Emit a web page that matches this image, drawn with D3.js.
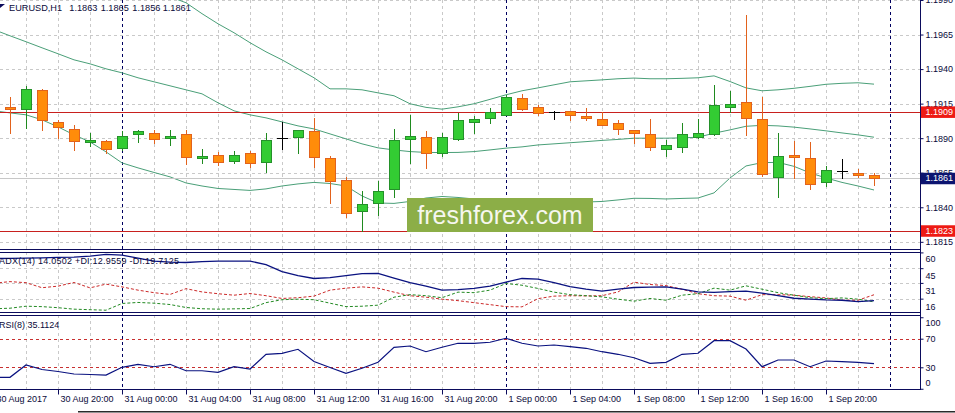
<!DOCTYPE html>
<html><head><meta charset="utf-8">
<script src="https://cdn.jsdelivr.net/npm/d3@7"></script>
<style>
body{margin:0;background:#fff;overflow:hidden;}
svg{display:block;}
text{font-family:"Liberation Sans",Arial,sans-serif;}
</style>
</head><body>
<svg id="c" width="955" height="413"></svg>
<script>
// ---------- DATA ----------
const barTimes = d3.timeHour.range(new Date(2017,7,30,16), new Date(2017,8,2,0)); // 56 H1 bars
const open  = [1.19100,1.19125,1.19114,1.19248,1.19016,1.18965,1.18875,1.18880,1.18832,1.18929,1.18938,1.18904,1.18931,1.18755,1.18777,1.18738,1.18793,1.18726,1.18900,1.18907,1.18953,1.18755,1.18598,1.18371,1.18429,1.18530,1.18897,1.18907,1.18791,1.18897,1.19016,1.19047,1.19067,1.19190,1.19125,1.19088,1.19096,1.19062,1.19038,1.19009,1.18958,1.18929,1.18825,1.18835,1.18912,1.18929,1.19125,1.19161,1.19040,1.18617,1.18779,1.18755,1.18581,1.18661,1.18649,1.18630];
const high  = [1.19180,1.19201,1.19279,1.19255,1.19033,1.18996,1.18941,1.18885,1.18955,1.18960,1.18960,1.18960,1.18960,1.18822,1.18801,1.18810,1.18810,1.18941,1.19016,1.18962,1.19047,1.18774,1.18617,1.18518,1.18588,1.18965,1.19069,1.18953,1.18941,1.19081,1.19057,1.19120,1.19214,1.19221,1.19141,1.19100,1.19098,1.19117,1.19086,1.19033,1.18960,1.19040,1.18888,1.19009,1.19040,1.19286,1.19243,1.19788,1.19201,1.18938,1.18880,1.18871,1.18699,1.18750,1.18678,1.18650];
const low   = [1.19050,1.18936,1.18977,1.18960,1.18904,1.18815,1.18846,1.18796,1.18815,1.18875,1.18868,1.18854,1.18712,1.18723,1.18709,1.18723,1.18694,1.18658,1.18825,1.18796,1.18694,1.18429,1.18328,1.18225,1.18346,1.18477,1.18719,1.18687,1.18772,1.18888,1.18936,1.19013,1.19065,1.19107,1.19067,1.19042,1.19028,1.19033,1.18993,1.18931,1.18868,1.18817,1.18774,1.18803,1.18900,1.18925,1.19091,1.18926,1.18629,1.18477,1.18614,1.18535,1.18557,1.18614,1.18622,1.18560];
const close = [1.19125,1.19110,1.19255,1.19028,1.18980,1.18883,1.18888,1.18825,1.18917,1.18953,1.18897,1.18914,1.18767,1.18770,1.18726,1.18777,1.18719,1.18886,1.18900,1.18960,1.18767,1.18588,1.18357,1.18422,1.18516,1.18888,1.18914,1.18796,1.18907,1.19030,1.19038,1.19088,1.19199,1.19114,1.19081,1.19088,1.19067,1.19045,1.18994,1.18965,1.18936,1.18835,1.18849,1.18929,1.18936,1.19139,1.19146,1.19045,1.18641,1.18770,1.18767,1.18567,1.18668,1.18661,1.18636,1.18610];

const bbUpper = [1.20264,1.20228,1.20192,1.20156,1.20120,1.20091,1.20062,1.20040,1.20018,1.19989,1.19960,1.19924,1.19880,1.19801,1.19728,1.19663,1.19591,1.19525,1.19467,1.19402,1.19337,1.19257,1.19257,1.19250,1.19228,1.19207,1.19149,1.19123,1.19110,1.19127,1.19149,1.19181,1.19214,1.19243,1.19264,1.19286,1.19308,1.19315,1.19322,1.19330,1.19335,1.19330,1.19330,1.19333,1.19337,1.19351,1.19310,1.19264,1.19243,1.19250,1.19261,1.19275,1.19290,1.19297,1.19301,1.19291];
const bbMiddle = [1.19685,1.19641,1.19598,1.19554,1.19511,1.19467,1.19438,1.19402,1.19373,1.19337,1.19308,1.19279,1.19250,1.19221,1.19156,1.19098,1.19069,1.19047,1.19018,1.18989,1.18967,1.18931,1.18895,1.18859,1.18830,1.18815,1.18803,1.18797,1.18796,1.18797,1.18803,1.18815,1.18828,1.18837,1.18851,1.18859,1.18867,1.18875,1.18884,1.18891,1.18900,1.18900,1.18900,1.18902,1.18907,1.18936,1.18960,1.18986,1.18993,1.18989,1.18980,1.18967,1.18953,1.18938,1.18924,1.18907];
const bbLower = [1.19098,1.19083,1.19069,1.19033,1.18982,1.18924,1.18873,1.18801,1.18721,1.18685,1.18652,1.18620,1.18576,1.18554,1.18536,1.18529,1.18522,1.18533,1.18554,1.18569,1.18580,1.18572,1.18554,1.18482,1.18431,1.18428,1.18442,1.18467,1.18478,1.18471,1.18460,1.18449,1.18442,1.18435,1.18431,1.18428,1.18428,1.18438,1.18442,1.18453,1.18465,1.18464,1.18460,1.18464,1.18467,1.18504,1.18612,1.18699,1.18723,1.18725,1.18696,1.18649,1.18612,1.18580,1.18554,1.18525];

const adxMain = [54.1,54.4,54.5,54.9,55.2,55.5,56.4,58.1,57.4,54.5,51.7,50.7,50.4,51.2,51.7,51.7,51.7,48.4,41.7,37.9,35.2,36.0,37.9,39.8,40.0,35.5,31.2,27.9,24.1,24.5,25.7,27.9,31.7,35.2,34.5,31.2,27.4,25.0,23.1,25.0,26.6,26.9,27.2,25.0,22.4,21.9,22.6,23.1,21.2,18.8,16.4,15.5,14.8,14.5,13.1,14.05];
const plusDI  = [6.4,6.9,8.8,8.4,7.4,6.0,5.5,5.0,11.4,12.4,11.7,10.4,7.6,6.4,6.0,6.3,6.6,12.2,15.0,15.5,15.0,11.7,8.4,8.8,9.8,17.4,19.8,18.8,16.9,22.2,21.7,24.1,30.4,28.8,25.7,22.2,19.8,18.8,17.7,15.5,13.6,16.2,14.5,19.3,20.7,26.0,24.1,28.2,25.0,21.7,19.3,16.9,16.0,16.7,15.5,12.96];
const minusDI = [30.7,32.2,31.2,26.4,27.9,31.4,26.3,29.8,27.2,24.1,21.7,20.0,25.5,22.4,20.7,19.3,20.9,18.8,16.2,16.9,18.4,24.1,26.0,27.2,26.0,22.2,18.8,17.4,15.5,14.1,12.2,10.3,8.4,8.2,16.0,18.4,18.8,18.6,18.8,22.4,31.7,29.5,28.4,25.0,20.7,18.8,18.4,14.5,19.8,19.8,19.3,17.9,16.7,14.5,14.5,19.71];
const rsi = [16.0,16.0,33.2,26.9,24.1,20.6,19.9,19.2,30.0,34.2,30.8,34.2,25.2,25.2,23.0,30.8,27.6,48.2,49.6,55.2,38.1,29.7,21.6,28.6,37.0,58.0,59.8,51.8,58.0,63.6,63.6,65.0,70.6,63.6,59.8,61.2,58.8,56.6,51.8,48.2,43.4,35.6,37.0,48.2,49.6,67.2,67.2,55.6,30.8,40.2,40.2,30.8,38.8,37.8,37.0,35.11];

const priceTicks = [1.1990,1.1965,1.1940,1.1915,1.1890,1.1865,1.1840,1.1815];
const levelPrices = [1.1909, 1.1823];
const bidPrice = 1.1861;
const adxTicks = [60,45,31,16];
const rsiTicks = [100,70,30,0];
const rsiLevels = [70,30];
const xTickBars = [0,4,8,12,16,20,24,28,32,36,40,44,48,52];
const xTickLabels = ["30 Aug 2017","30 Aug 20:00","31 Aug 00:00","31 Aug 04:00","31 Aug 08:00","31 Aug 12:00","31 Aug 16:00","31 Aug 20:00","1 Sep 00:00","1 Sep 04:00","1 Sep 08:00","1 Sep 12:00","1 Sep 16:00","1 Sep 20:00"];
const daySepBars = [8, 32, 56];
const header = {symbol:"EURUSD,H1", ohlc:["1.1863","1.1865","1.1856","1.1861"]};
const adxTitle = "ADX(14) 14.0502 +DI:12.9559 -DI:19.7125";
const rsiTitle = "RSI(8) 35.1124";
const watermark = "freshforex.com";

// ---------- LAYOUT ----------
const svg = d3.select("#c");
const R = 920;
const main = {top:0, bot:249};
const adxP = {top:252, bot:312};
const rsiP = {top:315, bot:389};
const NAVY = "#0b0b5c", TXT = "#0a0a3a", GRID = "#c9c9c9";

const x = d3.scaleLinear().domain([0, barTimes.length-1]).range([-6, 874]);
const y = d3.scaleLinear().domain([1.18098, 1.19900]).range([main.bot, main.top]);
const yA = d3.scaleLinear().domain([3.3, 60.4]).range([adxP.bot, adxP.top]);
const yR = d3.scaleLinear().domain([0, 100]).range([388.75, 317.25]);

svg.append("rect").attr("width",955).attr("height",413).attr("fill","#fff");

const defs = svg.append("defs");
[["cm",main],["ca",adxP],["cr",rsiP]].forEach(([id,p])=>{
  defs.append("clipPath").attr("id",id).append("rect").attr("x",0).attr("y",p.top).attr("width",R).attr("height",p.bot-p.top);
});

// vertical grid (every 2 bars) across all panels
const gridG = svg.append("g");
const vgBars = d3.range(0, 57, 2);
[main, adxP, rsiP].forEach(p=>{
  gridG.selectAll(null).data(vgBars.filter(b=>daySepBars.indexOf(b)<0)).join("line")
    .attr("x1",d=>Math.round(x(d))+0.5).attr("x2",d=>Math.round(x(d))+0.5)
    .attr("y1",p.top).attr("y2",p.bot)
    .attr("stroke",GRID).attr("stroke-dasharray","3,3");
});
// horizontal grid main
gridG.selectAll(null).data(priceTicks).join("line")
  .attr("x1",0).attr("x2",R).attr("y1",d=>Math.round(y(d))+0.5).attr("y2",d=>Math.round(y(d))+0.5)
  .attr("stroke",GRID).attr("stroke-dasharray","3,3");
gridG.selectAll(null).data(adxTicks.slice(1)).join("line")
  .attr("x1",0).attr("x2",R).attr("y1",d=>Math.round(yA(d))+0.5).attr("y2",d=>Math.round(yA(d))+0.5)
  .attr("stroke",GRID).attr("stroke-dasharray","3,3");

// day separators
svg.append("g").selectAll("line").data(daySepBars).join("line")
  .attr("x1",d=>Math.round(x(d))+0.5).attr("x2",d=>Math.round(x(d))+0.5)
  .attr("y1",0).attr("y2",rsiP.bot)
  .attr("stroke","#000060").attr("stroke-dasharray","3,3");

// ---------- MAIN PANEL ----------
const gm = svg.append("g").attr("clip-path","url(#cm)");
const bandLine = d3.line().x((d,i)=>x(i)).y(d=>y(d));
[bbUpper,bbMiddle,bbLower].forEach(arr=>{
  gm.append("path").attr("d",bandLine(arr)).attr("fill","none").attr("stroke","#4a9f78").attr("stroke-width",1);
});
// level lines
gm.selectAll(null).data(levelPrices).join("line")
  .attr("x1",0).attr("x2",R).attr("y1",d=>Math.round(y(d))+0.5).attr("y2",d=>Math.round(y(d))+0.5)
  .attr("stroke","#c8201e").attr("stroke-width",1.2);
gm.append("line").attr("x1",0).attr("x2",R)
  .attr("y1",Math.round(y(bidPrice))+0.5).attr("y2",Math.round(y(bidPrice))+0.5)
  .attr("stroke","#c8c8c8").attr("stroke-width",1.2);

// watermark
const wm = gm.append("g");
wm.append("rect").attr("x",407).attr("y",198).attr("width",186).attr("height",34).attr("fill","#8cae47");
wm.append("text").attr("x",500).attr("y",224).attr("text-anchor","middle")
  .attr("font-family","'Open Sans',sans-serif").attr("font-size",25).attr("fill","#f6f7ef").text(watermark);

// candles
const gc = gm.append("g");
open.forEach((o,i)=>{
  const c = close[i], cx = Math.round(x(i));
  const up = c > o, dn = c < o;
  const wick = up ? "#1f8a1f" : dn ? "#e2621c" : "#000";
  gc.append("line").attr("x1",cx+0.5).attr("x2",cx+0.5)
    .attr("y1",Math.round(y(high[i]))).attr("y2",Math.round(y(low[i]))+1)
    .attr("stroke",wick);
  if(!up && !dn){
    const yy = Math.round(y(o))+0.5;
    gc.append("line").attr("x1",cx-5).attr("x2",cx+6).attr("y1",yy).attr("y2",yy).attr("stroke","#000");
  } else {
    const yt = Math.round(y(Math.max(o,c))), yb = Math.round(y(Math.min(o,c)));
    gc.append("rect").attr("x",cx-4.5).attr("y",yt+0.5).attr("width",10).attr("height",Math.max(yb-yt,1))
      .attr("fill", up ? "#33cc33" : "#ff8c0a")
      .attr("stroke", up ? "#24912a" : "#e2621c").attr("stroke-width",1);
  }
});

// ---------- ADX PANEL ----------
const ga = svg.append("g").attr("clip-path","url(#ca)");
const la = d3.line().x((d,i)=>x(i)).y(d=>yA(d));
ga.append("path").attr("d",la(minusDI)).attr("fill","none").attr("stroke","#cc2a2a").attr("stroke-dasharray","3,2");
ga.append("path").attr("d",la(plusDI)).attr("fill","none").attr("stroke","#238a23").attr("stroke-dasharray","3,2");
ga.append("path").attr("d",la(adxMain)).attr("fill","none").attr("stroke","#0a1280").attr("stroke-width",1.3);

// ---------- RSI PANEL ----------
const gr = svg.append("g").attr("clip-path","url(#cr)");
gr.selectAll(null).data(rsiLevels).join("line")
  .attr("x1",0).attr("x2",R).attr("y1",d=>Math.round(yR(d))+0.5).attr("y2",d=>Math.round(yR(d))+0.5)
  .attr("stroke","#c83030").attr("stroke-dasharray","3,3");
const lr = d3.line().x((d,i)=>x(i)).y(d=>yR(d));
gr.append("path").attr("d",lr(rsi)).attr("fill","none").attr("stroke","#0a1280").attr("stroke-width",1.2);

// ---------- FRAMES ----------
const fr = svg.append("g").attr("stroke",NAVY).attr("stroke-width",1);
[main.bot, adxP.top, adxP.bot, rsiP.top, rsiP.bot].forEach(v=>{
  fr.append("line").attr("x1",0).attr("x2",R+0.5).attr("y1",v+0.5).attr("y2",v+0.5);
});
fr.append("line").attr("x1",R+0.5).attr("x2",R+0.5).attr("y1",0).attr("y2",rsiP.bot+1);
svg.append("line").attr("x1",78).attr("x2",955).attr("y1",411.75).attr("y2",411.75).attr("stroke","#2a2a2a").attr("stroke-width",1.5);

// ---------- AXES ----------
function styleAxis(g){
  g.select(".domain").remove();
  g.attr("font-family","'Liberation Sans',Arial,sans-serif").attr("font-size",9);
  g.selectAll(".tick line").attr("stroke",NAVY);
  g.selectAll(".tick text").attr("fill",TXT);
}
const pa = svg.append("g").attr("transform",`translate(${R+0.5},0)`)
  .call(d3.axisRight(y).tickValues(priceTicks).tickSize(3).tickPadding(2).tickFormat(d3.format(".4f")));
styleAxis(pa);

const aa = svg.append("g").attr("transform",`translate(${R+0.5},0)`)
  .call(d3.axisRight(yA).tickValues(adxTicks).tickSize(3).tickPadding(2).tickFormat(d3.format("d")));
styleAxis(aa);
aa.selectAll(".tick text").attr("y",d=> d===60 ? 6 : 7.5);

const ra = svg.append("g").attr("transform",`translate(${R+0.5},0)`)
  .call(d3.axisRight(yR).tickValues(rsiTicks).tickSize(3).tickPadding(2).tickFormat(d3.format("d")));
styleAxis(ra);
ra.selectAll(".tick text").attr("y",d=> d===100 ? 5 : d===0 ? -6.5 : 0);

// price marker boxes
function marker(v, bg){
  const yy = y(v);
  svg.append("rect").attr("x",R+1).attr("y",yy-5.5).attr("width",955-R-1).attr("height",11.5).attr("fill",bg);
  svg.append("text").attr("x",R+5.5).attr("y",yy).attr("dy","0.32em")
    .attr("font-size",9).attr("fill","#fff").text(d3.format(".4f")(v));
}
levelPrices.forEach(v=>marker(v,"#ee1a14"));
marker(bidPrice,"#0c1470");

// x axis
const xa = svg.append("g").attr("transform",`translate(0,${rsiP.bot+0.5})`)
  .call(d3.axisBottom(x).tickValues(xTickBars).tickSize(5).tickPadding(1).tickFormat((d,i)=>xTickLabels[i]));
styleAxis(xa);
xa.selectAll(".tick text").attr("text-anchor","start").attr("x",2);

// ---------- TITLES ----------
svg.append("path").attr("d","M0,4 L5,4 L0,8 Z").attr("fill",NAVY);
const ht = svg.append("text").attr("y",10.5).attr("font-size",9.2).attr("fill",TXT);
ht.append("tspan").attr("x",9).text(header.symbol);
const hx = [69.3,100.7,132.3,162.7];
header.ohlc.forEach((t,i)=>ht.append("tspan").attr("x",hx[i]).text(t));
svg.append("text").attr("x",-1).attr("y",263.5).attr("font-size",9).attr("fill",TXT)
  .attr("textLength",180).attr("lengthAdjust","spacing").text(adxTitle);
svg.append("text").attr("x",-1).attr("y",328).attr("font-size",9).attr("fill",TXT).text(rsiTitle);
</script>
</body></html>
